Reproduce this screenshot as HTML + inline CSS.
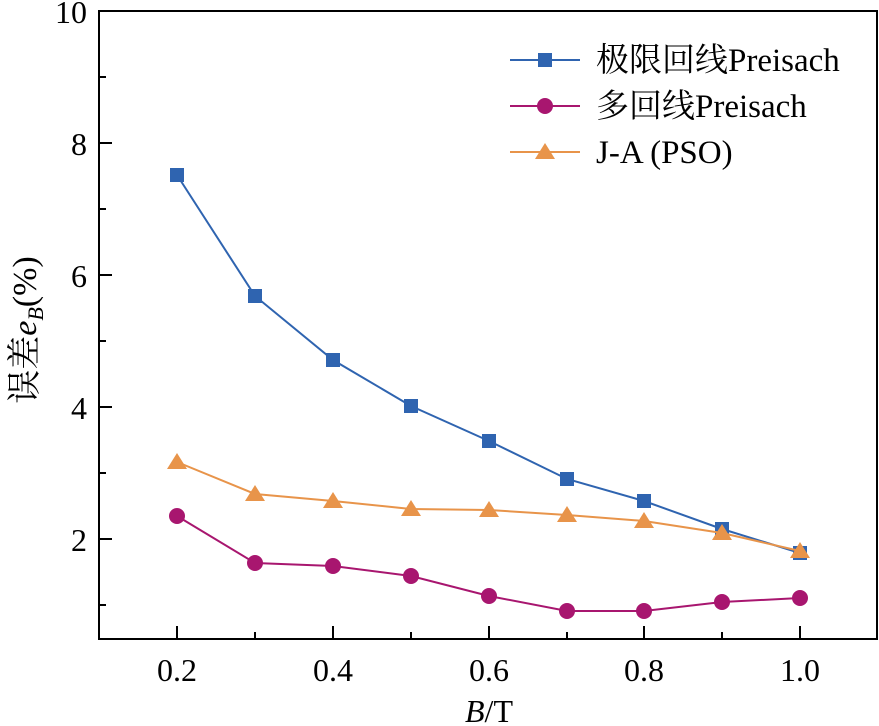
<!DOCTYPE html><html><head><meta charset="utf-8"><style>body{margin:0;background:#fff}svg{display:block}text{font-family:"Liberation Serif","Noto Serif CJK SC",serif;fill:#000}</style></head><body>
<svg width="879" height="726" xmlns="http://www.w3.org/2000/svg">
<g stroke="#000" stroke-width="2" fill="none">
<rect x="99" y="11" width="778" height="628"/>
<path d="M99 143h13M99 275h13M99 407h13M99 539h13M99 77h7M99 209h7M99 341h7M99 473h7M99 605h7"/>
<path d="M177 639v-13M333 639v-13M489 639v-13M644 639v-13M800 639v-13M255 639v-7M411 639v-7M567 639v-7M722 639v-7"/>
</g>
<g font-size="32" text-anchor="end">
<text x="87" y="23">10</text><text x="87" y="155">8</text><text x="87" y="287">6</text><text x="87" y="419">4</text><text x="87" y="551">2</text>
</g>
<g font-size="32" text-anchor="middle">
<text x="177" y="681">0.2</text><text x="333" y="681">0.4</text><text x="489" y="681">0.6</text><text x="644" y="681">0.8</text><text x="800" y="681">1.0</text>
<text x="489" y="722"><tspan font-style="italic">B</tspan>/T</text>
</g>
<text font-size="34" transform="translate(36 330) rotate(-90)" text-anchor="middle">误差<tspan font-style="italic">e</tspan><tspan font-style="italic" font-size="22" dy="7">B</tspan><tspan dy="-7">(%)</tspan></text>
<polyline fill="none" stroke="#2f64b0" stroke-width="2" points="177,175 255,296 333,360 411,406 489,441 567,479 644,501 722,529 800,553"/>
<g fill="#2f64b0"><rect x="170" y="168" width="14" height="14"/><rect x="248" y="289" width="14" height="14"/><rect x="326" y="353" width="14" height="14"/><rect x="404" y="399" width="14" height="14"/><rect x="482" y="434" width="14" height="14"/><rect x="560" y="472" width="14" height="14"/><rect x="637" y="494" width="14" height="14"/><rect x="715" y="522" width="14" height="14"/><rect x="793" y="546" width="14" height="14"/></g>
<polyline fill="none" stroke="#a8166f" stroke-width="2" points="177,516 255,563 333,566 411,576 489,596 567,611 644,611 722,602 800,598"/>
<g fill="#a8166f"><circle cx="177" cy="516" r="8"/><circle cx="255" cy="563" r="8"/><circle cx="333" cy="566" r="8"/><circle cx="411" cy="576" r="8"/><circle cx="489" cy="596" r="8"/><circle cx="567" cy="611" r="8"/><circle cx="644" cy="611" r="8"/><circle cx="722" cy="602" r="8"/><circle cx="800" cy="598" r="8"/></g>
<polyline fill="none" stroke="#e8944a" stroke-width="2" points="177,462 255,494 333,501 411,509 489,510 567,515 644,521 722,533 800,551"/>
<g fill="#e8944a">
<path d="M177 453l-10 16h20z"/><path d="M255 485l-10 16h20z"/><path d="M333 492l-10 16h20z"/><path d="M411 500l-10 16h20z"/><path d="M489 501l-10 16h20z"/><path d="M567 506l-10 16h20z"/><path d="M644 512l-10 16h20z"/><path d="M722 524l-10 16h20z"/><path d="M800 542l-10 16h20z"/>
</g>
<line x1="510" y1="60" x2="580" y2="60" stroke="#2f64b0" stroke-width="2"/><rect x="538" y="53" width="14" height="14" fill="#2f64b0"/>
<line x1="510" y1="106" x2="580" y2="106" stroke="#a8166f" stroke-width="2"/><circle cx="545" cy="106" r="8" fill="#a8166f"/>
<line x1="510" y1="152" x2="580" y2="152" stroke="#e8944a" stroke-width="2"/><path d="M545 143l-10 16h20z" fill="#e8944a"/>
<g font-size="33"><text x="596" y="71">极限回线Preisach</text><text x="596" y="117">多回线Preisach</text><text x="596" y="163">J-A (PSO)</text></g>
</svg></body></html>
